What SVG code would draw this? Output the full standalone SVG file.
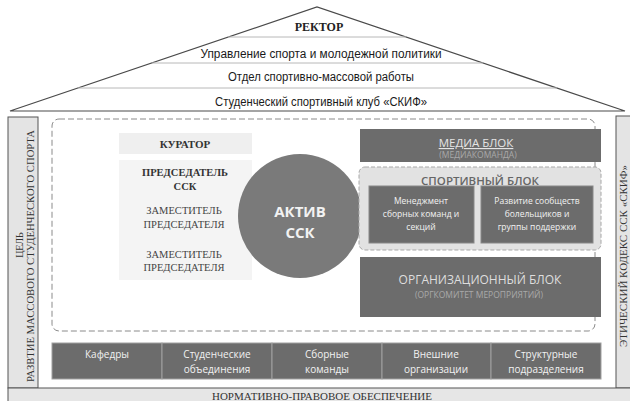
<svg xmlns="http://www.w3.org/2000/svg" width="630" height="401" viewBox="0 0 630 401">
<style>
.roof{fill:#fff;stroke:#4a4a4a;stroke-width:1.2}
.hl{stroke:#b8b8b8;stroke-width:1}
.rt{font-family:"Liberation Sans Narrow","Liberation Sans",Arial,sans-serif;font-size:12px;fill:#1a1a1a;text-anchor:middle}
.sr{font-family:"Liberation Serif","Times New Roman",serif;text-anchor:middle}
.col{fill:#e4e4e4;stroke:#555;stroke-width:1}
.dk{fill:#6c6c6c}
.sn{font-family:"Open Sans","Noto Sans",sans-serif;text-anchor:middle}
.wt{fill:#f2f2f2}
.sub{fill:#a9a9a9}
.cell{fill:#6c6c6c;stroke:#a0a0a0;stroke-width:1}
</style>
<g id="roof">
<polygon class="roof" points="10,111 317,7 625,111"/>
<line class="hl" x1="228" y1="37" x2="406" y2="37"/>
<line class="hl" x1="152" y1="63" x2="483" y2="63"/>
<line class="hl" x1="78" y1="88" x2="557" y2="88"/>
<text class="sr" x="319" y="31" font-size="12" font-weight="bold" fill="#222">РЕКТОР</text>
<text class="rt" x="321" y="58" textLength="241" lengthAdjust="spacingAndGlyphs">Управление спорта и молодежной политики</text>
<text class="rt" x="321" y="81" textLength="186" lengthAdjust="spacingAndGlyphs">Отдел спортивно-массовой работы</text>
<text class="rt" x="321" y="106" textLength="212" lengthAdjust="spacingAndGlyphs">Студенческий спортивный клуб «СКИФ»</text>
</g>
<g id="goal">
<rect class="col" x="8" y="117" width="30" height="271"/>
<text class="sr" font-size="10" fill="#333" transform="translate(22.5,245) rotate(-90)">ЦЕЛЬ</text>
<text class="sr" font-size="10" fill="#333" transform="translate(33.5,256) rotate(-90)" textLength="252" lengthAdjust="spacingAndGlyphs">РАЗВТИЕ МАССОВОГО СТУДЕНЧЕСКОГО СПОРТА</text>
</g>
<g id="ethics">
<rect class="col" x="616" y="116" width="20" height="272"/>
<text class="sr" font-size="10" fill="#333" transform="translate(626.5,256) rotate(-90)" textLength="182" lengthAdjust="spacingAndGlyphs">ЭТИЧЕСКИЙ КОДЕКС ССК «СКИФ»</text>
</g>
<g id="legal">
<rect x="8" y="388" width="630" height="20" fill="#e6e6e6" stroke="#555"/>
<text class="sr" x="322" y="400" font-size="10" fill="#333" textLength="220" lengthAdjust="spacingAndGlyphs">НОРМАТИВНО-ПРАВОВОЕ ОБЕСПЕЧЕНИЕ</text>
</g>
<g id="asset-frame">
<rect x="52" y="119" width="543" height="212" rx="7" fill="none" stroke="#8a8a8a" stroke-dasharray="6 3"/>
</g>
<g id="curator">
<rect x="119" y="133" width="133" height="21" fill="#efefef"/>
<text class="sr" x="185" y="148" font-size="11" font-weight="bold" fill="#333">КУРАТОР</text>
</g>
<g id="chair">
<rect x="119" y="160" width="133" height="120" fill="#f4f4f4"/>
<text class="sr" x="185" y="176" font-size="10.5" font-weight="bold" fill="#333">ПРЕДСЕДАТЕЛЬ</text>
<text class="sr" x="185" y="190" font-size="10.5" font-weight="bold" fill="#333">ССК</text>
<text class="sr" x="184" y="214" font-size="10.5" fill="#444">ЗАМЕСТИТЕЛЬ</text>
<text class="sr" x="184" y="228" font-size="10.5" fill="#444">ПРЕДСЕДАТЕЛЯ</text>
<text class="sr" x="184" y="258" font-size="10.5" fill="#444">ЗАМЕСТИТЕЛЬ</text>
<text class="sr" x="184" y="271" font-size="10.5" fill="#444">ПРЕДСЕДАТЕЛЯ</text>
</g>
<g id="active">
<circle cx="300" cy="216" r="62" fill="#7a7a7a"/>
<text class="sn wt" x="300" y="217" font-size="15" font-weight="bold">АКТИВ</text>
<text class="sn wt" x="300" y="238" font-size="15" font-weight="bold">ССК</text>
</g>
<g id="media">
<rect class="dk" x="360" y="129" width="241" height="33"/>
<text class="sn" x="476" y="147" font-size="11.5" fill="#e4e4e4" text-decoration="underline">МЕДИА БЛОК</text>
<text class="sn sub" x="478" y="158" font-size="8.5">(МЕДИАКОМАНДА)</text>
</g>
<g id="sport">
<rect x="359" y="167" width="242" height="83" rx="6" fill="#e2e2e2" stroke="#a8a8a8" stroke-dasharray="4 2"/>
<text class="sn" x="480" y="185" font-size="11.5" font-weight="600" fill="#666">СПОРТИВНЫЙ БЛОК</text>
<rect class="dk" x="369" y="186" width="105" height="57" stroke="#888"/>
<text class="sn wt" x="421" y="204" font-size="8.5">Менеджмент</text>
<text class="sn wt" x="421" y="217" font-size="8.5">сборных команд и</text>
<text class="sn wt" x="421" y="230" font-size="8.5">секций</text>
<rect class="dk" x="481" y="186" width="112" height="57" stroke="#888"/>
<text class="sn wt" x="537" y="204" font-size="8.5">Развитие сообществ</text>
<text class="sn wt" x="537" y="217" font-size="8.5">болельщиков и</text>
<text class="sn wt" x="537" y="230" font-size="8.5">группы поддержки</text>
</g>
<g id="org">
<rect class="dk" x="360" y="257" width="241" height="60"/>
<text class="sn" x="480" y="284" font-size="12" fill="#dedede">ОРГАНИЗАЦИОННЫЙ БЛОК</text>
<text class="sn sub" x="479" y="298" font-size="8.5">(ОРГКОМИТЕТ МЕРОПРИЯТИЙ)</text>
</g>
<g id="partners">
<rect class="cell" x="52" y="343" width="110" height="36"/>
<rect class="cell" x="162" y="343" width="110" height="36"/>
<rect class="cell" x="272" y="343" width="110" height="36"/>
<rect class="cell" x="382" y="343" width="109" height="36"/>
<rect class="cell" x="491" y="343" width="110" height="36"/>
<text class="sn wt" x="107" y="358" font-size="10">Кафедры</text>
<text class="sn wt" x="217" y="358" font-size="10">Студенческие</text>
<text class="sn wt" x="217" y="373" font-size="10">объединения</text>
<text class="sn wt" x="327" y="358" font-size="10">Сборные</text>
<text class="sn wt" x="327" y="373" font-size="10">команды</text>
<text class="sn wt" x="436" y="358" font-size="10">Внешние</text>
<text class="sn wt" x="436" y="373" font-size="10">организации</text>
<text class="sn wt" x="546" y="358" font-size="10">Структурные</text>
<text class="sn wt" x="546" y="373" font-size="10">подразделения</text>
</g>
<g id="connectors"></g>
</svg>
